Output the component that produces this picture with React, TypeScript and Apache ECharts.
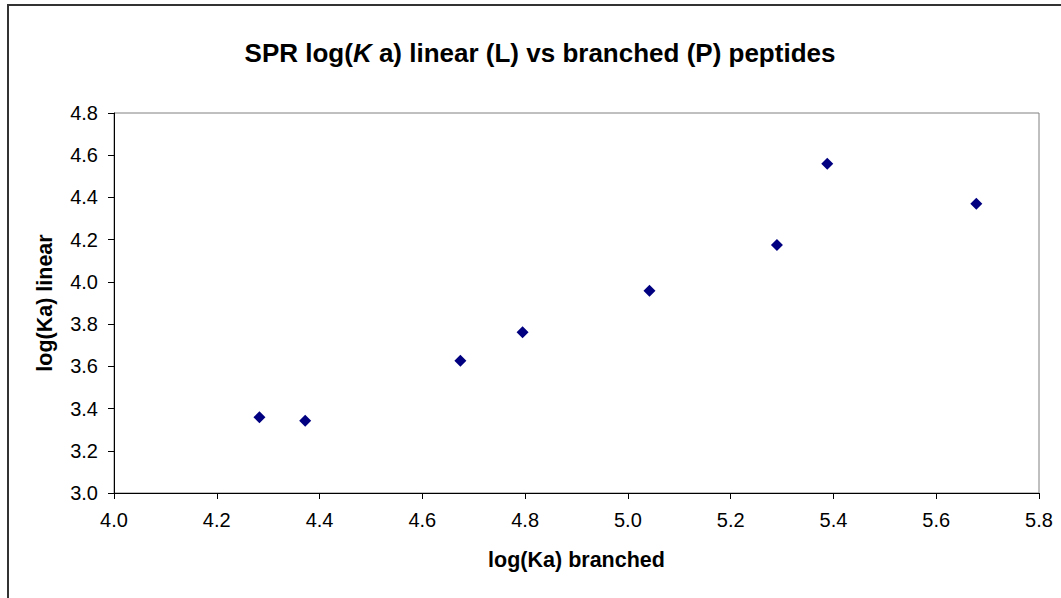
import React, { useEffect, useRef } from "react";
import * as echarts from "echarts";

const branched = [4.283, 4.372, 4.674, 4.795, 5.042, 5.29, 5.388, 5.678];
const linear = [3.359, 3.342, 3.627, 3.761, 3.958, 4.175, 4.56, 4.37];
const xTitle = "log(Ka) branched";
const yTitle = "log(Ka) linear";

export default function App() {
  const ref = useRef<HTMLDivElement>(null);
  useEffect(() => {
    if (!ref.current) return;
    const chart = echarts.init(ref.current, undefined, { renderer: "svg" });
    const font = "'Liberation Sans', Arial, sans-serif";
    chart.setOption({
      animation: false,
      backgroundColor: "#ffffff",
      title: {
        text: "{b|SPR log(}{i|K}{b| a) linear (L) vs branched (P) peptides}",
        left: 535,
        textAlign: "center",
        top: 35,
        textStyle: {
          fontSize: 26,
          rich: {
            b: { fontFamily: font, fontWeight: "bold", fontSize: 26, color: "#000" },
            i: { fontFamily: font, fontWeight: "bold", fontStyle: "italic", fontSize: 26, color: "#000" },
          },
        },
      },
      graphic: [
        {
          type: "rect",
          shape: { x: 8, y: 5, width: 1200, height: 800 },
          style: { fill: "none", stroke: "#333333", lineWidth: 2 },
          silent: true,
          z: 100,
        },
      ],
      grid: {
        left: 114,
        top: 113,
        right: 22,
        bottom: 105,
        show: true,
        borderColor: "#808080",
        borderWidth: 1,
        backgroundColor: "#ffffff",
      },
      xAxis: {
        type: "value",
        min: 4.0,
        max: 5.8,
        interval: 0.2,
        name: xTitle,
        nameLocation: "middle",
        nameGap: 56,
        nameTextStyle: { fontFamily: font, fontWeight: "bold", fontSize: 21.5, color: "#000" },
        axisLine: { show: true, onZero: false, lineStyle: { color: "#000", width: 1 } },
        axisTick: { show: true, length: 6, lineStyle: { color: "#000" } },
        axisLabel: {
          fontFamily: font,
          fontSize: 20,
          color: "#000",
          margin: 17,
          formatter: (v: number) => v.toFixed(1),
        },
        splitLine: { show: false },
      },
      yAxis: {
        type: "value",
        min: 3.0,
        max: 4.8,
        interval: 0.2,
        name: yTitle,
        nameLocation: "middle",
        nameGap: 58,
        nameTextStyle: { fontFamily: font, fontWeight: "bold", fontSize: 21.5, color: "#000" },
        axisLine: { show: true, onZero: false, lineStyle: { color: "#000", width: 1 } },
        axisTick: { show: true, length: 6, lineStyle: { color: "#000" } },
        axisLabel: {
          fontFamily: font,
          fontSize: 20,
          color: "#000",
          margin: 16,
          formatter: (v: number) => v.toFixed(1),
        },
        splitLine: { show: false },
      },
      series: [
        {
          type: "scatter",
          symbol: "diamond",
          symbolSize: 12,
          itemStyle: { color: "#000080", opacity: 1 },
          data: branched.map((x, i) => [x, linear[i]]),
        },
      ],
    });
    return () => chart.dispose();
  }, []);
  return (
    <div
      ref={ref}
      style={{ position: "absolute", left: 0, top: 0, width: 1061, height: 598 }}
    />
  );
}
